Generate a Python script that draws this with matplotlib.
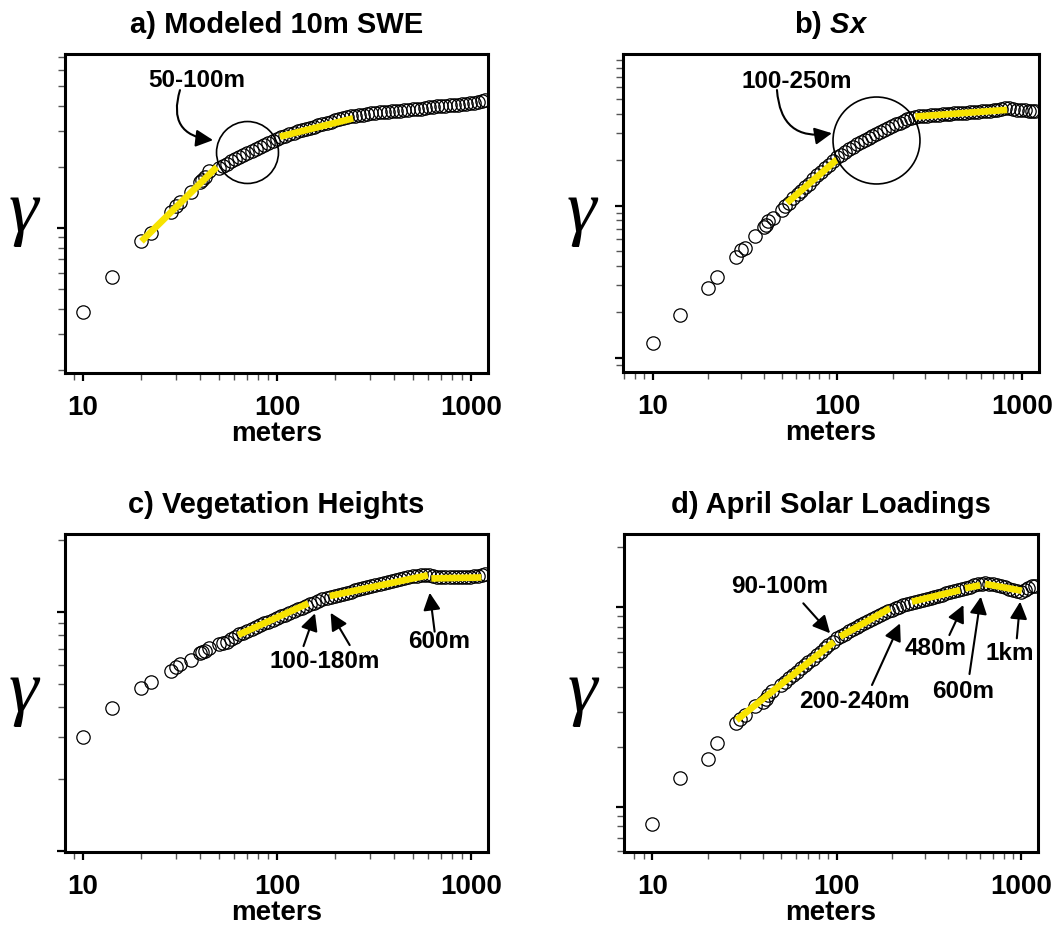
import numpy as np
import matplotlib.pyplot as plt

plt.rcParams['font.family'] = ['Liberation Sans', 'DejaVu Sans']
plt.rcParams['font.weight'] = 'bold'
plt.rcParams['mathtext.fontset'] = 'custom'
plt.rcParams['mathtext.it'] = 'Liberation Sans:italic:bold'

# lag distances (m), shared by all four panels
lags = [10, 14.1, 20, 22.4, 28.3, 30, 31.6, 36.1, 40, 41.2, 42.4, 44.7,
        50, 52.5, 55, 58, 61, 64, 67, 70, 74, 78, 82, 86, 90, 95,
        100, 105, 110, 116, 122, 128, 134, 141, 148, 155, 163, 171, 180, 189,
        198, 208, 218, 229, 240, 252, 265, 278, 292, 307, 322, 338, 355, 373,
        392, 411, 432, 453, 476, 500, 525, 551, 579, 608, 638, 670, 704, 739,
        776, 815, 856, 898, 943, 990, 1040, 1090, 1140, 1180]

# a) modeled 10m SWE
gam_a = [0.384, 0.571, 0.86, 0.95, 1.20, 1.28, 1.35, 1.51, 1.68, 1.72, 1.79, 1.90,
         1.97, 2.02, 2.07, 2.13, 2.18, 2.24, 2.29, 2.33, 2.39, 2.45, 2.50, 2.55, 2.61, 2.67,
         2.75, 2.80, 2.84, 2.89, 2.94, 2.99, 3.03, 3.07, 3.12, 3.16, 3.21, 3.25, 3.30, 3.34,
         3.39, 3.43, 3.48, 3.52, 3.55, 3.57, 3.60, 3.62, 3.65, 3.67, 3.69, 3.71, 3.72, 3.74,
         3.76, 3.78, 3.79, 3.81, 3.83, 3.85, 3.86, 3.88, 3.91, 3.94, 3.96, 3.98, 3.99, 4.01,
         4.02, 4.04, 4.06, 4.07, 4.09, 4.11, 4.14, 4.17, 4.22, 4.25]

# b) Sx
gam_b = [0.126, 0.192, 0.29, 0.338, 0.46, 0.51, 0.53, 0.627, 0.722, 0.75, 0.786, 0.83,
         0.929, 0.989, 1.047, 1.117, 1.186, 1.253, 1.321, 1.393, 1.486, 1.574, 1.663, 1.76, 1.85, 1.97,
         2.07, 2.16, 2.24, 2.34, 2.43, 2.52, 2.60, 2.70, 2.79, 2.87, 2.96, 3.05, 3.15, 3.24,
         3.32, 3.41, 3.50, 3.59, 3.67, 3.75, 3.80, 3.84, 3.86, 3.89, 3.91, 3.93, 3.94, 3.96,
         3.98, 4.00, 4.02, 4.04, 4.06, 4.07, 4.09, 4.11, 4.13, 4.15, 4.17, 4.19, 4.21, 4.24,
         4.28, 4.33, 4.35, 4.28, 4.23, 4.21, 4.20, 4.19, 4.19, 4.19]

# c) vegetation heights
gam_c = [0.30, 0.398, 0.482, 0.508, 0.568, 0.590, 0.603, 0.629, 0.671, 0.68, 0.688, 0.708,
         0.733, 0.741, 0.751, 0.767, 0.785, 0.804, 0.818, 0.832, 0.849, 0.865, 0.879, 0.895, 0.910, 0.927,
         0.942, 0.957, 0.973, 0.991, 1.009, 1.026, 1.040, 1.057, 1.074, 1.091, 1.109, 1.125, 1.143, 1.156,
         1.167, 1.178, 1.189, 1.202, 1.213, 1.227, 1.242, 1.256, 1.271, 1.285, 1.297, 1.309, 1.321, 1.334,
         1.346, 1.358, 1.371, 1.380, 1.393, 1.403, 1.413, 1.419, 1.422, 1.419, 1.406, 1.396, 1.390, 1.390,
         1.390, 1.393, 1.396, 1.396, 1.400, 1.400, 1.403, 1.413, 1.429, 1.435]

# d) April solar loadings
gam_d = [0.0824, 0.1396, 0.1746, 0.210, 0.262, 0.277, 0.288, 0.320, 0.336, 0.347, 0.363, 0.38,
         0.406, 0.424, 0.440, 0.458, 0.476, 0.494, 0.513, 0.531, 0.553, 0.577, 0.600, 0.622, 0.644, 0.671,
         0.698, 0.719, 0.738, 0.759, 0.778, 0.798, 0.817, 0.838, 0.857, 0.875, 0.895, 0.914, 0.935, 0.955,
         0.975, 0.993, 1.009, 1.023, 1.038, 1.050, 1.062, 1.074, 1.086, 1.099, 1.112, 1.127, 1.143, 1.159,
         1.175, 1.191, 1.208, 1.225, 1.239, 1.253, 1.271, 1.288, 1.303, 1.315, 1.318, 1.315, 1.309, 1.297,
         1.282, 1.262, 1.242, 1.225, 1.208, 1.197, 1.216, 1.250, 1.274, 1.282]

# power-law fit segments: (lag0, gamma0, lag1, gamma1)
fits_a = [(20, 0.86, 49, 2.0), (103.5, 2.82, 247, 3.47)]
fits_b = [(53.5, 1.04, 100, 2.01), (265, 3.83, 834, 4.24)]
fits_c = [(63, 0.80, 145, 1.084), (187, 1.163, 600, 1.42), (625, 1.377, 1133, 1.39)]
fits_d = [(28.6, 0.272, 96.6, 0.672), (104, 0.713, 194, 0.989), (255, 1.067, 466, 1.22),
          (495, 1.245, 597, 1.29), (635, 1.31, 1004, 1.21)]

titles = ['a) Modeled 10m SWE', 'b) $Sx$', 'c) Vegetation Heights', 'd) April Solar Loadings']

fig = plt.figure(figsize=(10.64, 9.25), dpi=100)
axes = [fig.add_axes([0.0611, 0.5968, 0.3975, 0.3448]),
        fig.add_axes([0.5855, 0.5978, 0.3910, 0.3438]),
        fig.add_axes([0.0611, 0.0789, 0.3975, 0.3438]),
        fig.add_axes([0.5865, 0.0789, 0.3891, 0.3438])]
xlims = [(8.07, 1224), (6.91, 1241), (8.07, 1224), (7.03, 1230)]
ylims = [(0.193, 7.2), (0.081, 9.85), (0.0995, 2.11), (0.0594, 2.33)]
gams = [gam_a, gam_b, gam_c, gam_d]
fits = [fits_a, fits_b, fits_c, fits_d]
yellow = '#f7e300'

for ax, g, f, t, xl, yl in zip(axes, gams, fits, titles, xlims, ylims):
    ax.plot(lags, g, 'o', ms=9.6, mfc='none', mec='black', mew=0.9, zorder=2)
    for x0, y0, x1, y1 in f:
        ax.plot([x0, x1], [y0, y1], color=yellow, lw=4.8, solid_capstyle='butt', zorder=3)
    ax.set_xscale('log')
    ax.set_yscale('log')
    ax.set_xlim(xl)
    ax.set_ylim(yl)
    ax.set_xticks([10, 100, 1000], labels=['10', '100', '1000'])
    ax.yaxis.set_major_formatter(plt.NullFormatter())
    ax.yaxis.set_minor_formatter(plt.NullFormatter())
    ax.xaxis.set_minor_formatter(plt.NullFormatter())
    ax.tick_params(which='major', direction='out', length=6, width=1.6, labelsize=20, pad=10)
    ax.tick_params(which='minor', direction='out', length=5, width=1.0, color='#555555')
    for s in ax.spines.values():
        s.set_linewidth(2.2)
    ax.set_title(t, fontsize=21, fontweight='bold', pad=15)
    ax.set_xlabel('meters', fontsize=20, fontweight='bold', labelpad=0)
    ax.set_ylabel('γ', rotation=0, fontsize=54, family='Liberation Serif',
                  fontweight='normal', style='italic', va='center', labelpad=14)

arr = dict(arrowstyle='-|>', color='black', lw=1.5, mutation_scale=26, shrinkA=0, shrinkB=0)

# highlighted lag ranges (circles)
axes[0].plot([70.3], [2.36], 'o', ms=44.6, mfc='none', mec='black', mew=1.2, zorder=4)
axes[1].plot([162.5], [2.69], 'o', ms=62.6, mfc='none', mec='black', mew=1.2, zorder=4)

fs = 17.5
axes[0].text(38.5, 5.36, '50-100m', fontsize=fs, ha='center', va='center')
axes[0].annotate('', xy=(46.8, 2.71), xytext=(31.6, 4.78),
                 arrowprops=dict(arr, connectionstyle='arc3,rad=0.6'))
axes[1].text(60.7, 6.49, '100-250m', fontsize=fs, ha='center', va='center')
axes[1].annotate('', xy=(93.7, 2.98), xytext=(47.2, 5.72),
                 arrowprops=dict(arr, connectionstyle='arc3,rad=0.55'))

ax = axes[2]
ax.text(176, 0.619, '100-180m', fontsize=fs, ha='center', va='center')
ax.annotate('', xy=(157, 0.985), xytext=(137, 0.719), arrowprops=arr)
ax.annotate('', xy=(189, 0.99), xytext=(237, 0.726), arrowprops=arr)
ax.text(684, 0.75, '600m', fontsize=fs, ha='center', va='center')
ax.annotate('', xy=(613, 1.2), xytext=(650, 0.826), arrowprops=arr)

ax = axes[3]
ax.text(48.8, 1.27, '90-100m', fontsize=fs, ha='center', va='center')
ax.annotate('', xy=(91.9, 0.741), xytext=(65.8, 1.047), arrowprops=arr)
ax.text(124, 0.336, '200-240m', fontsize=fs, ha='center', va='center')
ax.annotate('', xy=(220, 0.831), xytext=(155, 0.408), arrowprops=arr)
ax.text(341, 0.623, '480m', fontsize=fs, ha='center', va='center')
ax.annotate('', xy=(485, 1.027), xytext=(407, 0.726), arrowprops=arr)
ax.text(485, 0.377, '600m', fontsize=fs, ha='center', va='center')
ax.annotate('', xy=(603, 1.13), xytext=(523, 0.463), arrowprops=arr)
ax.text(869, 0.588, '1km', fontsize=fs, ha='center', va='center')
ax.annotate('', xy=(984, 1.067), xytext=(944, 0.699), arrowprops=arr)

fig.savefig('out.png', dpi=100)
